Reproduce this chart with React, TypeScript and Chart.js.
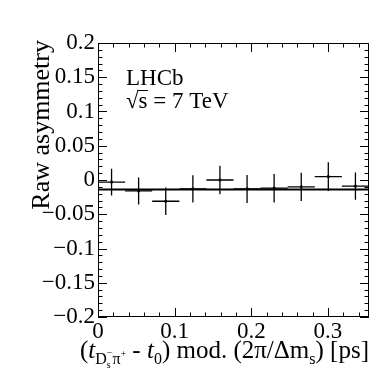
import React, { useEffect, useRef } from 'react';
import { Chart, registerables } from 'chart.js';

Chart.register(...registerables);

// ---- data ----
const binCenters = [0.0177, 0.0530, 0.0884, 0.1238, 0.1591, 0.1945, 0.2298, 0.2652, 0.3005, 0.3359];
const binHalfWidths = [0.0177, 0.0177, 0.0177, 0.0177, 0.0177, 0.0177, 0.0177, 0.0177, 0.0177, 0.0177];
const asymmetry = [-0.003, -0.016, -0.031, -0.013, 0.000, -0.013, -0.012, -0.010, 0.005, -0.009];
const asymmetryErr = [0.0195, 0.0197, 0.0200, 0.0200, 0.0207, 0.0204, 0.0207, 0.0207, 0.0210, 0.0200];
const fitLevel = -0.014;
const xRange = [0, 0.3536];
const yRange = [-0.2, 0.2];
const xTickValues = [0, 0.1, 0.2, 0.3];
const yTickValues = [-0.2, -0.15, -0.1, -0.05, 0, 0.05, 0.1, 0.15, 0.2];
const xMinorStep = 0.02;
const yMinorStep = 0.01;
const labelLines = ['LHCb', '\u221As = 7 TeV'];
const yTitle = 'Raw asymmetry';

const SERIF = '"Liberation Serif", "DejaVu Serif", serif';

function fmt(v: number): string {
  const r = Math.round(v * 100) / 100;
  if (r === 0) return '0';
  return (r < 0 ? '\u2212' : '') + String(Math.abs(r));
}

const decorPlugin = {
  id: 'rootDecor',
  afterDatasetsDraw(chart: any) {
    const { ctx, chartArea: a, scales } = chart;
    const xs = scales.x;
    const ys = scales.y;
    ctx.save();
    // error bars
    ctx.strokeStyle = '#000';
    ctx.lineWidth = 1.3;
    ctx.beginPath();
    for (let i = 0; i < binCenters.length; i++) {
      const px = xs.getPixelForValue(binCenters[i]);
      const py = ys.getPixelForValue(asymmetry[i]);
      const x0 = xs.getPixelForValue(binCenters[i] - binHalfWidths[i]);
      const x1 = xs.getPixelForValue(binCenters[i] + binHalfWidths[i]);
      const y0 = ys.getPixelForValue(asymmetry[i] - asymmetryErr[i]);
      const y1 = ys.getPixelForValue(asymmetry[i] + asymmetryErr[i]);
      ctx.moveTo(x0, py);
      ctx.lineTo(x1, py);
      ctx.moveTo(px, y0);
      ctx.lineTo(px, y1);
    }
    ctx.stroke();

    // frame
    ctx.lineWidth = 1;
    ctx.strokeRect(Math.round(a.left) + 0.5, Math.round(a.top) + 0.5, Math.round(a.right - a.left) - 1, Math.round(a.bottom - a.top) - 1);

    // ticks
    ctx.beginPath();
    const isMajor = (v: number, list: number[]) => list.some((t) => Math.abs(t - v) < 1e-6);
    for (let v = xRange[0]; v <= xRange[1] + 1e-9; v += xMinorStep) {
      const vv = Math.round(v * 1000) / 1000;
      const len = isMajor(vv, xTickValues) ? 9 : 4.5;
      const px = Math.round(xs.getPixelForValue(vv)) + 0.5;
      ctx.moveTo(px, a.bottom);
      ctx.lineTo(px, a.bottom - len);
      ctx.moveTo(px, a.top);
      ctx.lineTo(px, a.top + len);
    }
    for (let v = yRange[0]; v <= yRange[1] + 1e-9; v += yMinorStep) {
      const vv = Math.round(v * 1000) / 1000;
      const len = isMajor(vv, yTickValues) ? 9 : 4.5;
      const py = Math.round(ys.getPixelForValue(vv)) + 0.5;
      ctx.moveTo(a.left, py);
      ctx.lineTo(a.left + len, py);
      ctx.moveTo(a.right, py);
      ctx.lineTo(a.right - len, py);
    }
    ctx.stroke();

    // LHCb label
    ctx.fillStyle = '#000';
    ctx.font = `23px ${SERIF}`;
    ctx.textAlign = 'left';
    ctx.textBaseline = 'alphabetic';
    ctx.fillText(labelLines[0], 126, 85);
    ctx.fillText(labelLines[1], 126, 108);
    const wRoot = ctx.measureText('\u221A').width;
    const wS = ctx.measureText('s').width;
    ctx.beginPath();
    ctx.lineWidth = 1;
    ctx.moveTo(126 + wRoot - 1, 108 - 17.5);
    ctx.lineTo(126 + wRoot + wS + 0.5, 108 - 17.5);
    ctx.stroke();

    // y title
    ctx.save();
    ctx.translate(49, 40);
    ctx.rotate(-Math.PI / 2);
    ctx.font = `26px ${SERIF}`;
    ctx.textAlign = 'right';
    ctx.fillText(yTitle, 0, 0);
    ctx.restore();

    // x title with sub/superscripts
    type Seg = { t: string; size: number; dy: number; it?: boolean; stack?: { t: string; size: number; dy: number } };
    const segs: Seg[] = [
      { t: '(', size: 25, dy: 0 },
      { t: 't', size: 25, dy: 0, it: true },
      { t: 'D', size: 16, dy: 6 },
      { t: 's', size: 10, dy: 10, stack: { t: '\u2212', size: 10, dy: -2 } },
      { t: '\u03C0', size: 16, dy: 6 },
      { t: '+', size: 10, dy: -1 },
      { t: ' - ', size: 25, dy: 0 },
      { t: 't', size: 25, dy: 0, it: true },
      { t: '0', size: 16, dy: 6 },
      { t: ') mod. (2\u03C0/\u0394m', size: 25, dy: 0 },
      { t: 's', size: 16, dy: 6 },
      { t: ') [ps]', size: 25, dy: 0 },
    ];
    const fontOf = (s: { size: number; it?: boolean }) => `${s.it ? 'italic ' : ''}${s.size}px ${SERIF}`;
    const widthOf = (s: Seg) => {
      ctx.font = fontOf(s);
      let w = ctx.measureText(s.t).width;
      if (s.stack) {
        ctx.font = fontOf(s.stack);
        w = Math.max(w, ctx.measureText(s.stack.t).width);
      }
      return w;
    };
    const total = segs.reduce((acc, s) => acc + widthOf(s), 0);
    let cx = a.right - total;
    const base = 358;
    ctx.textAlign = 'left';
    for (const s of segs) {
      const w = widthOf(s);
      ctx.font = fontOf(s);
      ctx.fillText(s.t, cx, base + s.dy);
      if (s.stack) {
        ctx.font = fontOf(s.stack);
        ctx.fillText(s.stack.t, cx, base + s.stack.dy);
      }
      cx += w;
    }
    ctx.restore();
  },
};

export default function App() {
  const ref = useRef<HTMLCanvasElement | null>(null);
  useEffect(() => {
    if (!ref.current) return;
    const chart = new Chart(ref.current, {
      type: 'scatter',
      data: {
        datasets: [
          {
            type: 'line',
            data: [
              { x: xRange[0], y: fitLevel },
              { x: xRange[1], y: fitLevel },
            ],
            borderColor: '#000',
            borderWidth: 2,
            pointRadius: 0,
            fill: false,
          } as any,
          {
            data: binCenters.map((x, i) => ({ x, y: asymmetry[i] })),
            pointStyle: 'rect',
            pointRadius: 1.8,
            backgroundColor: '#000',
            borderColor: '#000',
            borderWidth: 0,
          },
        ],
      },
      options: {
        responsive: false,
        animation: false,
        layout: { padding: { top: 43, right: 21, left: 0, bottom: 0 } },
        plugins: { legend: { display: false }, tooltip: { enabled: false } },
        scales: {
          x: {
            type: 'linear',
            min: xRange[0],
            max: xRange[1],
            grid: { display: false, drawTicks: false },
            border: { display: false },
            afterBuildTicks: (s: any) => {
              s.ticks = xTickValues.map((v) => ({ value: v }));
            },
            afterFit: (s: any) => {
              s.height = 63;
            },
            ticks: {
              autoSkip: false,
              maxRotation: 0,
              padding: 1,
              color: '#000',
              font: { family: SERIF, size: 23 },
              callback: (v: any) => fmt(Number(v)),
            },
          },
          y: {
            type: 'linear',
            min: yRange[0],
            max: yRange[1],
            grid: { display: false, drawTicks: false },
            border: { display: false },
            afterBuildTicks: (s: any) => {
              s.ticks = yTickValues.map((v) => ({ value: v }));
            },
            afterFit: (s: any) => {
              s.width = 98;
            },
            ticks: {
              autoSkip: false,
              padding: 3,
              color: '#000',
              font: { family: SERIF, size: 23 },
              callback: (v: any) => fmt(Number(v)),
            },
          },
        },
      },
      plugins: [decorPlugin],
    });
    return () => chart.destroy();
  }, []);
  return (
    <div style={{ position: 'fixed', left: 0, top: 0, width: 390, height: 380, background: '#fff' }}>
      <canvas ref={ref} width={390} height={380} style={{ width: 390, height: 380 }} />
    </div>
  );
}
